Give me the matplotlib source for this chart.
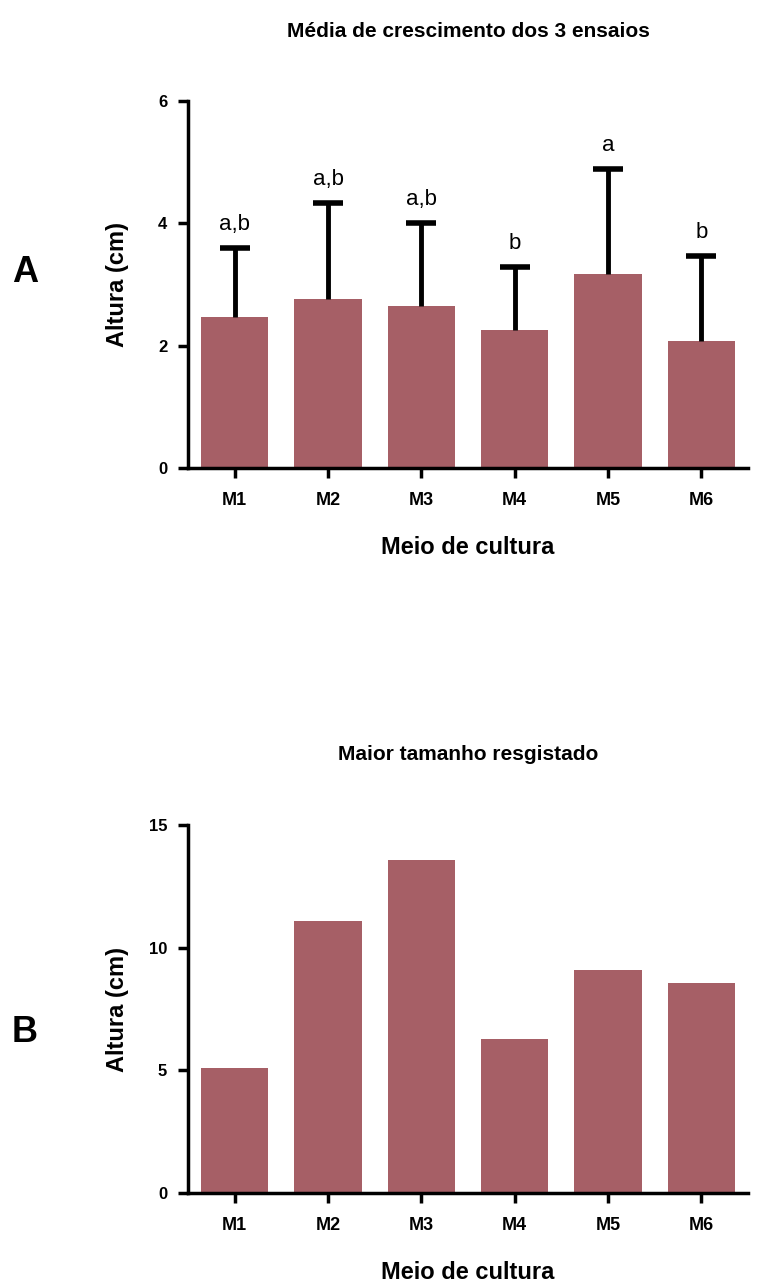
import matplotlib
matplotlib.use("Agg")
import matplotlib.pyplot as plt
import numpy as np

categories = ["M1", "M2", "M3", "M4", "M5", "M6"]
mean_height = [2.47, 2.77, 2.65, 2.25, 3.17, 2.07]
sd_height = [1.13, 1.57, 1.36, 1.04, 1.72, 1.40]
letters = ["a,b", "a,b", "a,b", "b", "a", "b"]
max_height = [5.08, 11.09, 13.58, 6.26, 9.08, 8.57]

title_a = "Média de crescimento dos 3 ensaios"
title_b = "Maior tamanho resgistado"
xlabel = "Meio de cultura"
ylabel = "Altura (cm)"

bar_color = "#A65F66"
plt.rcParams['font.family'] = ['Liberation Sans', 'DejaVu Sans']

fig = plt.figure(figsize=(7.74, 12.84), dpi=100)
W, H = 774, 1284

def make_ax(left, right, top, bottom):
    return fig.add_axes([left / W, 1 - bottom / H, (right - left) / W, (bottom - top) / H])

ax1 = make_ax(188, 748, 101, 468)
ax2 = make_ax(188, 748, 825, 1193)

x = np.arange(len(categories))

def style(ax, ylim, yticks):
    ax.set_xlim(-0.5, len(categories) - 0.5)
    ax.set_ylim(*ylim)
    ax.set_yticks(yticks)
    ax.set_yticklabels([str(t) for t in yticks], fontweight='bold', fontsize=12)
    ax.set_xticks(x)
    ax.set_xticklabels(categories, fontweight='bold', fontsize=13)
    for s in ['top', 'right']:
        ax.spines[s].set_visible(False)
    for s in ['left', 'bottom']:
        ax.spines[s].set_linewidth(2.5)
    ax.tick_params(axis='both', direction='out', length=7, width=2.5)
    ax.tick_params(axis='x', pad=10)
    ax.tick_params(axis='y', pad=8)
    ax.set_xlabel(xlabel, fontsize=17, fontweight='bold', labelpad=20)
    ax.set_ylabel(ylabel, fontsize=17, fontweight='bold')
    ax.yaxis.set_label_coords((129 - 188) / 560, 0.5)

# Panel A
ax1.bar(x, mean_height, width=0.72, color=bar_color, edgecolor='none', zorder=2)
tops = np.array(mean_height) + np.array(sd_height)
cap_half = 0.16
ax1.vlines(x, mean_height, tops, colors='black', linewidth=3.5, zorder=3)
ax1.hlines(tops, x - cap_half, x + cap_half, colors='black', linewidth=4, zorder=3)
for xi, t, lab in zip(x, tops, letters):
    ax1.annotate(lab, (xi, t), xytext=(0, 9), textcoords='offset points',
                 ha='center', va='bottom', fontsize=16)
style(ax1, (0, 6), [0, 2, 4, 6])
ax1.set_title(title_a, fontsize=15, fontweight='bold', pad=46)

# Panel B
ax2.bar(x, max_height, width=0.72, color=bar_color, edgecolor='none', zorder=2)
style(ax2, (0, 15), [0, 5, 10, 15])
ax2.set_title(title_b, fontsize=15, fontweight='bold', pad=47)

fig.text(25 / W, 1 - 273 / H, "A", fontsize=26, fontweight='bold', ha='center', va='center')
fig.text(25 / W, 1 - 1032 / H, "B", fontsize=26, fontweight='bold', ha='center', va='center')

fig.savefig("out.png", dpi=100)
